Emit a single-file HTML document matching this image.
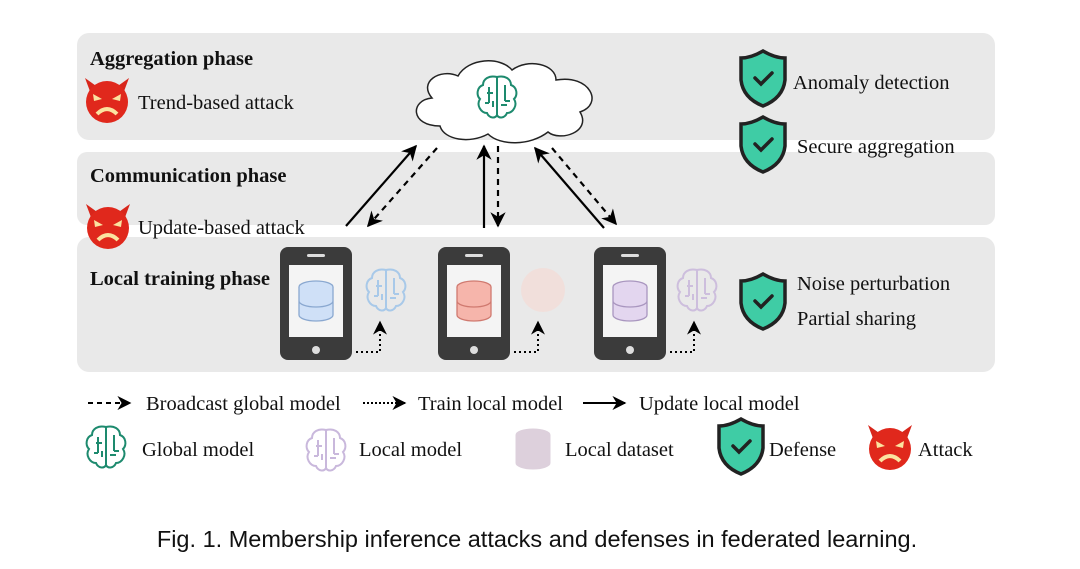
<!DOCTYPE html>
<html><head><meta charset="utf-8"><style>
body{margin:0;background:#fff}
svg{display:block}
text{font-family:"Liberation Serif",serif;fill:#111}
</style></head><body>
<svg width="1080" height="569" viewBox="0 0 1080 569" xmlns="http://www.w3.org/2000/svg">
<defs>
<marker id="ah" viewBox="0 0 10 10" refX="9" refY="5" markerWidth="7" markerHeight="7" orient="auto"><path d="M0,0L10,5L0,10L3,5z" fill="#000"/></marker>
<g id="devil">
<path d="M-22,-22 L-16,-6 L-8,-12Z M22,-22 L16,-6 L8,-12Z" fill="#d8261b"/>
<circle cx="0" cy="2" r="21" fill="#e0281c"/>
<path d="M-14,-6 L-5,-1 L-13,1Z M14,-6 L5,-1 L13,1Z" fill="#fbe3a0"/>
<path d="M-10,14 Q0,4 10,14" stroke="#fbe3a0" stroke-width="4" fill="none"/>
</g>
<g id="shield">
<path d="M0,-27 Q12,-20 22,-20 L22,2 Q20,20 0,28 Q-20,20 -22,2 L-22,-20 Q-12,-20 0,-27Z" fill="#3fcca5" stroke="#222" stroke-width="3.5"/>
<path d="M-8,0 L-2,6 L9,-5" stroke="#222" stroke-width="3.5" fill="none" stroke-linecap="round"/>
</g>
<g id="brain" fill="none" stroke-width="2">
<path d="M0,-20 C-8,-22 -14,-18 -14,-12 C-20,-10 -21,-2 -17,2 C-21,8 -16,16 -10,16 C-8,21 -2,22 0,18 Z M0,-20 C8,-22 14,-18 14,-12 C20,-10 21,-2 17,2 C21,8 16,16 10,16 C8,21 2,22 0,18 Z M0,-20 V18 M-8,-10 V6 M-8,6 h-4 M8,-12 V4 M8,4 h5 M-4,-4 h-6 M4,8 h6 M-4,10 v-6"/>
</g>
<g id="db">
<ellipse cx="0" cy="-14" rx="17" ry="6"/>
<path d="M-17,-14 V14 A17,6 0 0 0 17,14 V-14 M-17,0 A17,6 0 0 0 17,0"/>
</g>
</defs>
<rect x="77" y="33" width="918" height="107" rx="12" fill="#e9e9e9"/>
<rect x="77" y="152" width="918" height="73" rx="10" fill="#e9e9e9"/>
<rect x="77" y="237" width="918" height="135" rx="12" fill="#e9e9e9"/>
<g font-size="20.5">
<text x="90" y="65" font-weight="bold">Aggregation phase</text>
<text x="90" y="182" font-weight="bold">Communication phase</text>
<text x="90" y="285" font-weight="bold">Local training phase</text>
<text x="138" y="109">Trend-based attack</text>
<text x="138" y="234">Update-based attack</text>
<text x="793" y="89">Anomaly detection</text>
<text x="797" y="153">Secure aggregation</text>
<text x="797" y="290">Noise perturbation</text>
<text x="797" y="325">Partial sharing</text>
<text x="146" y="410">Broadcast global model</text>
<text x="418" y="410">Train local model</text>
<text x="639" y="410">Update local model</text>
<text x="142" y="456">Global model</text>
<text x="359" y="456">Local model</text>
<text x="565" y="456">Local dataset</text>
<text x="769" y="456">Defense</text>
<text x="918" y="456">Attack</text>
</g>
<use href="#devil" x="107" y="100"/>
<use href="#devil" x="108" y="226"/>
<use href="#shield" x="763" y="78"/>
<use href="#shield" x="763" y="144"/>
<use href="#shield" x="763" y="301"/>
<path d="M440,126 C410,126 410,100 432,98 C418,82 440,68 458,76 C468,58 500,56 512,70 C528,58 556,64 556,80 C590,74 604,104 580,112 C592,132 560,142 548,132 C530,146 500,146 488,134 C470,144 444,140 440,126Z" fill="#fff" stroke="#222" stroke-width="1.5"/>
<use href="#brain" x="497" y="97" stroke="#1d8a6e"/>
<g stroke="#000" stroke-width="2.2" fill="none">
<line x1="346" y1="226" x2="416" y2="146" marker-end="url(#ah)"/>
<line x1="437" y1="148" x2="368" y2="226" stroke-dasharray="6,5" marker-end="url(#ah)"/>
<line x1="484" y1="228" x2="484" y2="146" marker-end="url(#ah)"/>
<line x1="498" y1="146" x2="498" y2="226" stroke-dasharray="6,5" marker-end="url(#ah)"/>
<line x1="604" y1="228" x2="535" y2="148" marker-end="url(#ah)"/>
<line x1="552" y1="148" x2="616" y2="224" stroke-dasharray="6,5" marker-end="url(#ah)"/>
</g>
<rect x="280" y="247" width="72" height="113" rx="8" fill="#3b3b3b"/>
<rect x="289" y="265" width="54" height="72" fill="#f4f4f4"/>
<rect x="307" y="254" width="18" height="3" rx="1.5" fill="#ddd"/>
<circle cx="316" cy="350" r="4" fill="#ddd"/>
<use href="#db" x="316" y="301" fill="#cfe0f7" stroke="#8aa8d0" stroke-width="1.3"/>
<use href="#brain" x="386" y="290" stroke="#8bbbe8" opacity="0.7"/>
<rect x="438" y="247" width="72" height="113" rx="8" fill="#3b3b3b"/>
<rect x="447" y="265" width="54" height="72" fill="#f4f4f4"/>
<rect x="465" y="254" width="18" height="3" rx="1.5" fill="#ddd"/>
<circle cx="474" cy="350" r="4" fill="#ddd"/>
<use href="#db" x="474" y="301" fill="#f6b5ab" stroke="#d07a70" stroke-width="1.3"/>
<circle cx="543" cy="290" r="22" fill="#f7d8d2" opacity="0.6"/>
<rect x="594" y="247" width="72" height="113" rx="8" fill="#3b3b3b"/>
<rect x="603" y="265" width="54" height="72" fill="#f4f4f4"/>
<rect x="621" y="254" width="18" height="3" rx="1.5" fill="#ddd"/>
<circle cx="630" cy="350" r="4" fill="#ddd"/>
<use href="#db" x="630" y="301" fill="#e3d6ef" stroke="#a996bf" stroke-width="1.3"/>
<use href="#brain" x="697" y="290" stroke="#c6b3da" opacity="0.8"/>
<g stroke="#000" stroke-width="2" fill="none" stroke-dasharray="2,3">
<path d="M356,352 H380 V322" marker-end="url(#ah)"/>
<path d="M514,352 H538 V322" marker-end="url(#ah)"/>
<path d="M670,352 H694 V322" marker-end="url(#ah)"/>
</g>
<g stroke="#000" stroke-width="2" fill="none">
<line x1="88" y1="403" x2="130" y2="403" stroke-dasharray="5,4" marker-end="url(#ah)"/>
<line x1="363" y1="403" x2="405" y2="403" stroke-dasharray="2,2" marker-end="url(#ah)"/>
<line x1="583" y1="403" x2="625" y2="403" marker-end="url(#ah)"/>
</g>
<use href="#brain" x="106" y="447" stroke="#1d8a6e"/>
<use href="#brain" x="326" y="450" stroke="#c9b8dc"/>
<use href="#db" x="533" y="449" fill="#ddd0dc" stroke="#ddd0dc"/>
<use href="#shield" x="741" y="446"/>
<use href="#devil" x="890" y="447"/>
<text x="537" y="547" font-size="23.5" text-anchor="middle" style="font-family:'Liberation Sans',sans-serif">Fig. 1.  Membership inference attacks and defenses in federated learning.</text>
</svg>
</body></html>
